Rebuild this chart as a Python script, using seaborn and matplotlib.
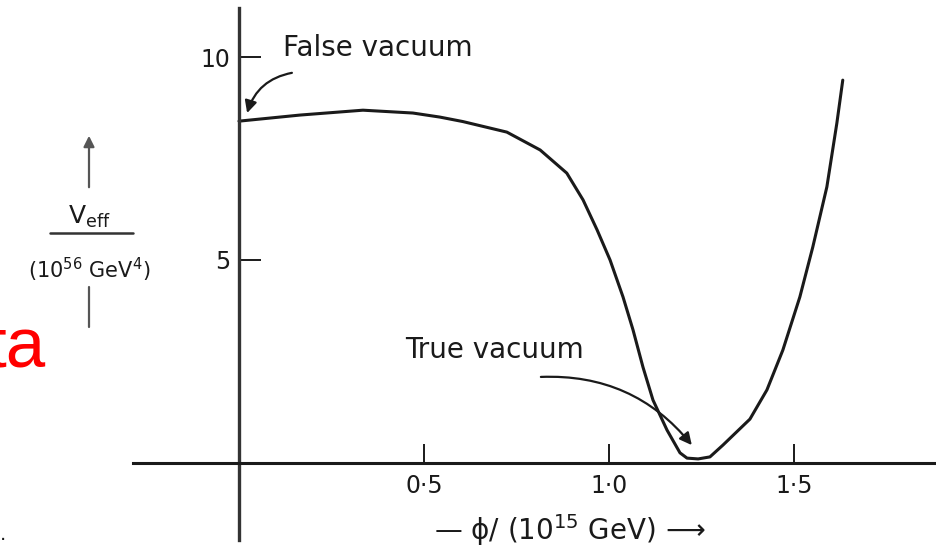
import matplotlib
matplotlib.use("Agg")
import matplotlib.pyplot as plt
import seaborn as sns
import pandas as pd
from matplotlib.lines import Line2D

# phi in 10^15 GeV, V_eff in 10^56 GeV^4
phi = [0.0, 0.165, 0.335, 0.470, 0.543, 0.605, 0.724, 0.814, 0.886, 0.930,
       0.968, 1.003, 1.038, 1.065, 1.092, 1.119, 1.157, 1.192, 1.211, 1.241,
       1.273, 1.308, 1.381, 1.427, 1.470, 1.516, 1.551, 1.589, 1.616, 1.632]
v_eff = [8.42, 8.57, 8.69, 8.62, 8.52, 8.41, 8.15, 7.71, 7.14, 6.48,
         5.74, 5.00, 4.09, 3.28, 2.36, 1.55, 0.81, 0.25, 0.12, 0.10,
         0.15, 0.44, 1.08, 1.80, 2.78, 4.09, 5.32, 6.80, 8.37, 9.43]

x_ticks = [0.5, 1.0, 1.5]
x_ticklabels = ["0·5", "1·0", "1·5"]
y_ticks = [5, 10]
y_ticklabels = ["5", "10"]

df = pd.DataFrame({"phi": phi, "V": v_eff})

sns.set_theme(style="white")
plt.rcParams["font.family"] = ["DejaVu Sans"]
plt.rcParams["mathtext.fontset"] = "dejavusans"

ink = "#1a1a1a"
fig = plt.figure(figsize=(9.36, 5.53), dpi=100)
ax = fig.add_axes([133 / 936, 13 / 553, 803 / 936, 532 / 553])

sns.lineplot(data=df, x="phi", y="V", ax=ax, color=ink, linewidth=2.2, sort=True,
             solid_joinstyle="round", solid_capstyle="round")

ax.set_xlim(-0.2865, 1.884)
ax.set_ylim(-1.897, 11.207)

# axes drawn through the origin, like the original sketch
for side in ["top", "right"]:
    ax.spines[side].set_visible(False)
ax.spines["left"].set_position(("data", 0))
ax.spines["bottom"].set_position(("data", 0))
ax.spines["left"].set_color("#333333")
ax.spines["bottom"].set_color(ink)
ax.spines["left"].set_linewidth(2.4)
ax.spines["bottom"].set_linewidth(2.2)

ax.set_xticks(x_ticks)
ax.set_xticklabels(x_ticklabels)
ax.set_yticks(y_ticks)
ax.set_yticklabels(y_ticklabels)
ax.tick_params(axis="x", direction="in", length=14, width=1.4, pad=8,
               labelsize=17, colors=ink, bottom=True)
ax.tick_params(axis="y", direction="in", length=16, width=1.4, pad=6,
               labelsize=17, colors=ink, left=True)

ax.set_xlabel("— ϕ/ (10$^{15}$ GeV) ⟶", fontsize=20, color=ink, va="center")
ax.xaxis.set_label_coords(0.544, 0.019)
ax.set_ylabel("")

# annotations
ax.text(0.119, 10.22, "False vacuum", fontsize=20, color=ink, va="center", ha="left")
ax.annotate("", xy=(0.022, 8.62), xytext=(0.143, 9.61),
            arrowprops=dict(arrowstyle="-|>", color=ink, lw=1.6, mutation_scale=18,
                            connectionstyle="arc3,rad=0.3", shrinkA=0, shrinkB=0))
ax.text(0.449, 2.78, "True vacuum", fontsize=20, color=ink, va="center", ha="left")
ax.annotate("", xy=(1.224, 0.44), xytext=(0.816, 2.12),
            arrowprops=dict(arrowstyle="-|>", color=ink, lw=1.6, mutation_scale=18,
                            connectionstyle="arc3,rad=-0.25", shrinkA=0, shrinkB=0))

# stacked y label: arrow, V_eff over (10^56 GeV^4), bar
fx = 89 / 936
fig.add_artist(matplotlib.patches.FancyArrowPatch(
    (fx, 1 - 190 / 553), (fx, 1 - 133 / 553), transform=fig.transFigure,
    arrowstyle="-|>", mutation_scale=16, lw=1.6, color="#555555"))
fig.text(fx, 1 - 217 / 553, r"V$_{\rm eff}$", fontsize=18, color=ink,
         ha="center", va="center")
fig.add_artist(Line2D([50 / 936, 133 / 936], [1 - 233 / 553, 1 - 233 / 553],
                      transform=fig.transFigure, color="#333333", lw=1.8))
fig.text(fx, 1 - 270 / 553, r"(10$^{56}$ GeV$^{4}$)", fontsize=15, color=ink,
         ha="center", va="center")
fig.add_artist(Line2D([fx, fx], [1 - 287 / 553, 1 - 327 / 553],
                      transform=fig.transFigure, color="#555555", lw=1.6))

# slide leftovers at the left edge (cut off in the reference too)
fig.text(46 / 936, 1 - 367 / 553, "ta", fontsize=51, color="#ff0000",
         family="Liberation Sans", ha="right", va="baseline")
fig.text(0.0, 1 - 540 / 553, ".", fontsize=14, color=ink, ha="left", va="baseline")

fig.savefig("out.png", dpi=100)
